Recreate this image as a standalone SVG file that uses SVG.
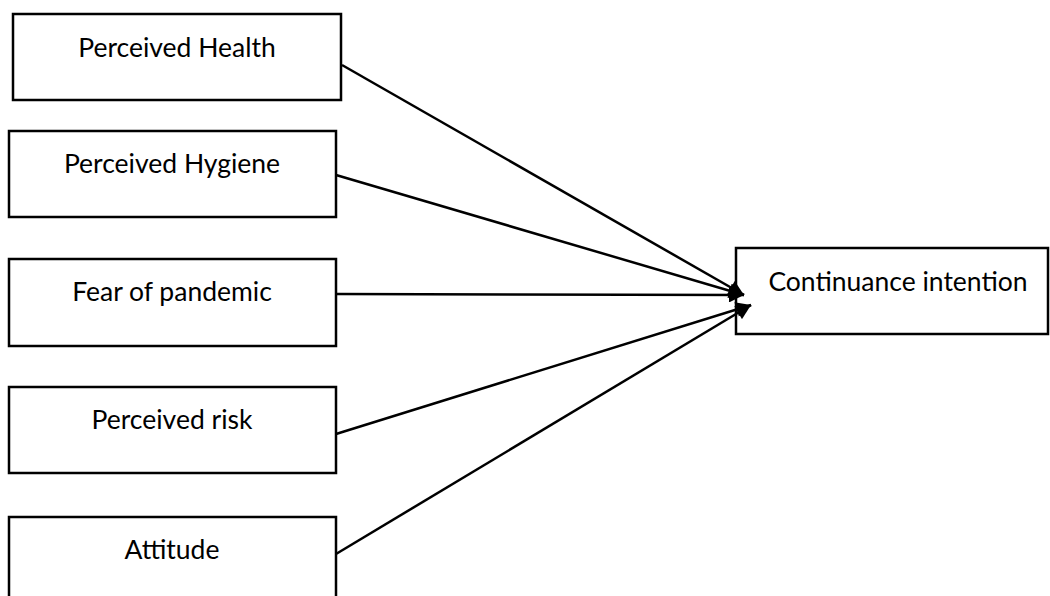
<svg xmlns="http://www.w3.org/2000/svg" width="1050" height="596" viewBox="0 0 1050 596">
<defs>
<style>
.box{fill:#fff;stroke:#000;stroke-width:2.5}
.lbl{font-family:Lato,"Open Sans","Liberation Sans",sans-serif;font-size:26.5px;fill:#000;text-anchor:middle}
.edge{stroke:#000;stroke-width:2.5;fill:none;marker-end:url(#ah)}
</style>
<marker id="ah" viewBox="0 0 10 10" refX="10" refY="5" markerWidth="7" markerHeight="6" markerUnits="strokeWidth" orient="auto">
<path d="M0,0 L10,5 L0,10 z" fill="#000"/>
</marker>
</defs>
<rect width="1050" height="596" fill="#fff"/>
<g id="n1"><rect class="box" x="13" y="14" width="328" height="86"/><text class="lbl" x="177" y="57">Perceived Health</text></g>
<g id="n2"><rect class="box" x="9" y="131" width="327" height="86"/><text class="lbl" x="172" y="173">Perceived Hygiene</text></g>
<g id="n3"><rect class="box" x="9" y="259" width="327" height="87"/><text class="lbl" x="172" y="301">Fear of pandemic</text></g>
<g id="n4"><rect class="box" x="9" y="387" width="327" height="86"/><text class="lbl" x="172" y="429">Perceived risk</text></g>
<g id="n5"><rect class="box" x="9" y="517" width="327" height="90"/><text class="lbl" x="172" y="559">Attitude</text></g>
<g id="n6"><rect class="box" x="736" y="248" width="312" height="86"/><text class="lbl" x="898" y="291">Continuance intention</text></g>
<g id="edges">
<line class="edge" x1="342" y1="65" x2="744" y2="295"/>
<line class="edge" x1="336" y1="175" x2="744" y2="295"/>
<line class="edge" x1="336" y1="294" x2="744" y2="295"/>
<line class="edge" x1="336" y1="434" x2="751" y2="305"/>
<line class="edge" x1="336" y1="554" x2="751" y2="305"/>
</g>
</svg>
